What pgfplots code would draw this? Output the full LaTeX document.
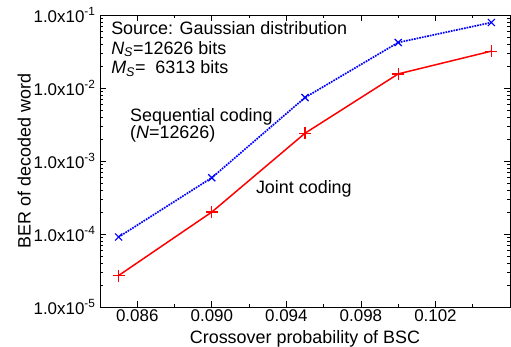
\documentclass[border=0pt]{standalone}
\usepackage{pgfplots}
\pgfplotsset{compat=1.18}
\usepackage{fontspec}
\setmainfont{Liberation Sans}
\setsansfont{Liberation Sans}

% BER vs. crossover probability of the binary symmetric channel
\pgfplotstableread{
p      ber
0.085  9.1e-5
0.090  5.9e-4
0.095  7.4e-3
0.100  4.2e-2
0.105  7.9e-2
}\sequential
\pgfplotstableread{
p      ber
0.085  2.7e-5
0.090  2.0e-4
0.095  2.4e-3
0.100  1.56e-2
0.105  3.2e-2
}\joint

\begin{document}
\begin{tikzpicture}
\begin{axis}[
  scale only axis,
  width=410bp, height=292bp,
  at={(0,0)}, anchor=south west,
  ymode=log,
  xmin=0.084, xmax=0.106,
  ymin=1e-5, ymax=1e-1,
  xtick={0.086,0.090,0.094,0.098,0.102},
  xticklabels={0.086,0.090,0.094,0.098,0.102},
  minor xtick={0.088,0.092,0.096,0.100,0.104},
  ytick={1e-5,1e-4,1e-3,1e-2,1e-1},
  yticklabels={1.0x10\textsuperscript{-5},1.0x10\textsuperscript{-4},1.0x10\textsuperscript{-3},1.0x10\textsuperscript{-2},1.0x10\textsuperscript{-1}},
  tick align=inside,
  major tick length=6bp,
  minor tick length=3bp,
  tick style={black, line width=0.8pt},
  axis line style={line width=0.9pt},
  ticklabel style={font=\fontsize{17}{20}\selectfont},
  xticklabel style={yshift=1bp},
  yticklabel style={xshift=-1bp},
  label style={font=\fontsize{18}{21}\selectfont},
  xlabel={Crossover probability of BSC},
  ylabel={BER of decoded word},
  xlabel style={at={(axis description cs:0.5,0)}, anchor=base, yshift=-36bp},
  ylabel style={yshift=-4bp},
  clip=false,
]
\addplot[blue, line width=1.7pt, densely dotted, mark=x, mark size=5bp,
  mark options={solid, line width=1.2pt}] table[x=p, y=ber] {\sequential};
\addplot[red, line width=1.5pt, mark=+, mark size=6bp,
  mark options={solid, line width=1.2pt}] table[x=p, y=ber] {\joint};

\begin{scope}[every node/.style={font=\fontsize{18}{21}\selectfont, inner sep=0pt}]
\node[anchor=base west] at (rel axis cs:0.027,0.932) {Source: Gaussian distribution};
\node[anchor=base west] at (rel axis cs:0.027,0.866) {\textit{N}\textsubscript{\textit{S}}=12626 bits};
\node[anchor=base west] at (rel axis cs:0.027,0.798) {\textit{M}\textsubscript{\textit{S}}=\ \ 6313 bits};
\node[anchor=base west] at (rel axis cs:0.073,0.634) {Sequential coding};
\node[anchor=base west] at (rel axis cs:0.073,0.578) {(\textit{N}=12626)};
\node[anchor=base west] at (rel axis cs:0.380,0.390) {Joint coding};
\end{scope}
\end{axis}
\pgfresetboundingbox
\useasboundingbox (-100bp,-40bp) rectangle (411bp,307bp);
\end{tikzpicture}
\end{document}
